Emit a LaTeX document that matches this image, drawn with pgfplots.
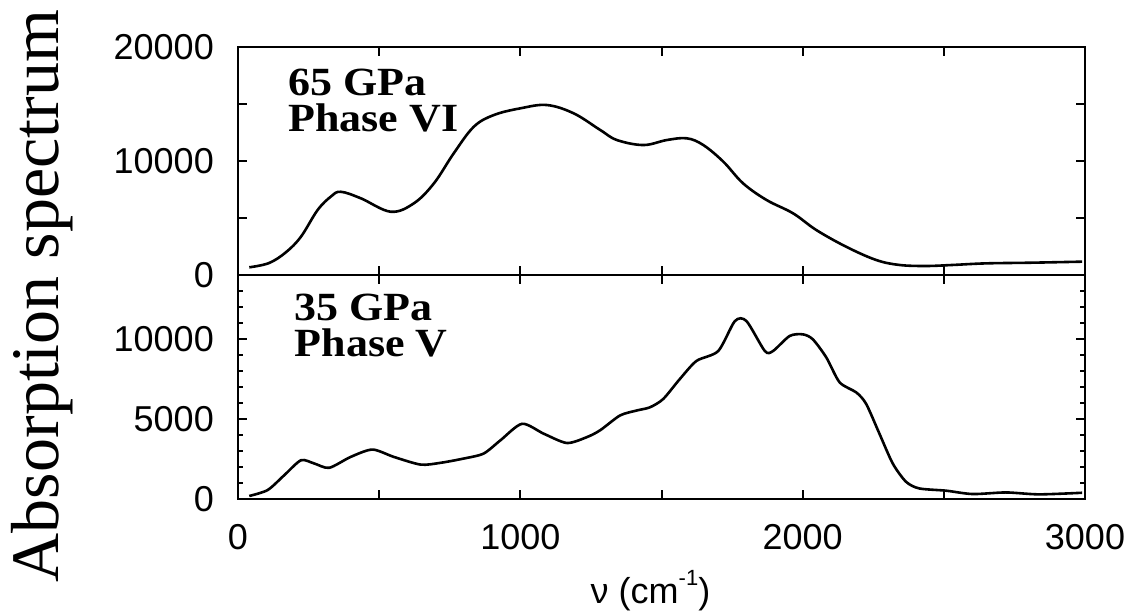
\documentclass[border=0pt]{standalone}
\usepackage{fontspec}
\setmainfont{Liberation Sans}
\newfontfamily\timesf{Liberation Serif}
\usepackage{pgfplots}
\pgfplotsset{compat=1.18}

\pgfplotstableread{
x y
40 675
110 1050
170 2000
223 3360
282 5700
330 6900
364 7300
435 6730
541 5550
623 6290
694 8040
764 10670
835 13000
906 14030
1000 14620
1094 14910
1189 14180
1283 12720
1342 11840
1436 11400
1519 11840
1590 11990
1648 11400
1719 9940
1789 8040
1872 6580
1966 5410
2048 3950
2154 2480
2260 1320
2343 880
2437 790
2531 880
2649 1020
2813 1080
2990 1170
}\topdata

\pgfplotstableread{
x y
40 190
105 560
164 1490
223 2420
270 2220
323 1950
399 2630
476 3090
552 2630
647 2150
717 2260
800 2530
870 2840
929 3660
1006 4700
1083 4080
1165 3500
1236 3870
1283 4300
1353 5220
1412 5530
1459 5730
1506 6250
1565 7500
1624 8630
1701 9250
1760 11120
1801 11120
1866 9250
1895 9250
1954 10190
2001 10290
2036 9980
2084 8840
2131 7290
2190 6660
2225 5940
2272 4080
2319 2220
2366 1080
2413 660
2508 520
2602 310
2720 410
2837 290
2990 390
}\botdata

\tikzset{
  annot/.style={anchor=north west, align=left, inner sep=0pt, xscale=1.1,
    font=\timesf\bfseries\fontsize{40}{36}\selectfont},
}

\pgfplotsset{
  panel/.style={
    scale only axis,
    width=847pt,
    xmin=0, xmax=3000,
    xtick={0,500,...,3000},
    axis line style={line width=2.8pt},
    tick style={line width=2pt, black},
    major tick length=9pt,
    minor tick length=5pt,
    tick align=inside,
    xtick pos=both, ytick pos=both,
    xticklabel pos=bottom, yticklabel pos=left,
    scaled ticks=false,
    /pgf/number format/assume math mode=true,
    tick label style={font=\fontsize{36}{36}\selectfont, inner sep=0pt},
    yticklabel style={xshift=-24pt},
    xticklabel style={yshift=-25pt},
    clip=false,
  },
  curve/.style={black, line width=2.6pt, smooth, no markers},
}

\begin{document}
\begin{tikzpicture}
\path[use as bounding box] (0,0) rectangle (1133pt,614pt);

% top panel
\begin{axis}[panel,
  at={(238pt,339pt)}, anchor=south west,
  height=228pt,
  ymin=0, ymax=20000,
  ytick={0,5000,...,20000},
  yticklabels={0,,10000,,20000},
  xticklabels={},
]
\addplot[curve, tension=0.6] table[x=x,y=y] {\topdata};
\node[annot] at (axis cs:178,18100) {65 GPa\\Phase VI};
\end{axis}

% bottom panel
\begin{axis}[panel,
  at={(238pt,115pt)}, anchor=south west,
  height=224pt,
  ymin=0, ymax=14000,
  ytick={0,5000,10000},
  yticklabels={0,5000,10000},
  minor ytick={1000,2000,3000,4000,6000,7000,8000,9000,11000,12000,13000},
  xticklabels={0,,1000,,2000,,3000},
  xlabel={ν (cm\raisebox{0.5em}{\fontsize{22}{22}\selectfont -1})},
  xlabel style={font=\fontsize{36}{36}\selectfont, inner sep=0pt,
    at={(axis description cs:0.487,0)}, anchor=base, yshift=-104pt},
]
\addplot[curve, tension=0.45] table[x=x,y=y] {\botdata};
\node[annot] at (axis cs:200,12800) {35 GPa\\Phase V};
\end{axis}

\node[rotate=90, anchor=base, inner sep=0pt, font=\timesf\fontsize{68}{68}\selectfont] at (58pt,318pt) {Absorption spectrum};
\end{tikzpicture}
\end{document}
